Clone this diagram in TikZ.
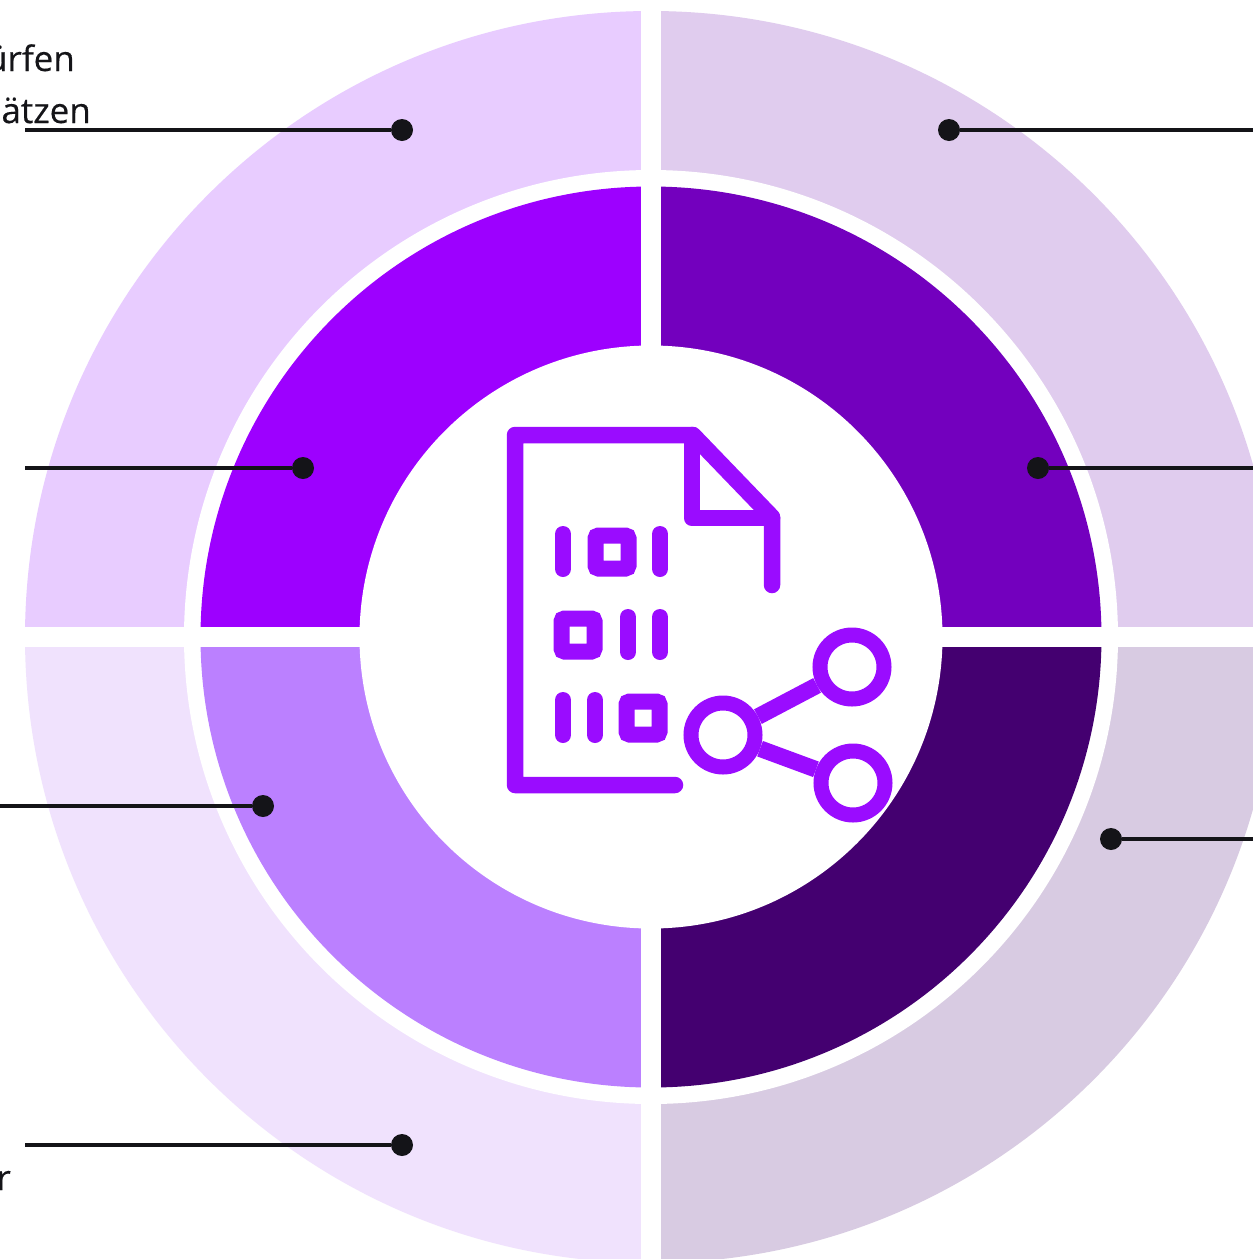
\documentclass[tikz,border=0pt]{standalone}
\usepackage{fontspec}
\setmainfont[FakeBold=0.35]{Open Sans}
\definecolor{ol1}{HTML}{E8CCFF}
\definecolor{ol2}{HTML}{E0CCEE}
\definecolor{ol3}{HTML}{F0E2FD}
\definecolor{ol4}{HTML}{D8CBE2}
\definecolor{in1}{HTML}{9D00FF}
\definecolor{in2}{HTML}{7300BE}
\definecolor{in3}{HTML}{BB80FF}
\definecolor{in4}{HTML}{440070}
\definecolor{icon}{HTML}{9A0CFF}
\definecolor{ink}{HTML}{141418}
\tikzset{
  dotmark/.style={circle,fill=ink,inner sep=0pt,minimum size=22pt},
  leader/.style={draw=ink,line width=3.4pt},
  lbl/.style={inner sep=0pt,text=ink,font=\fontsize{35}{35}\selectfont,anchor=base east},
  iconline/.style={draw=icon,line width=16.5pt,line cap=round,line join=round},
  iconbar/.style={draw=icon,line width=16pt,line cap=round},
  iconsq/.style={draw=icon,line width=16pt,rounded corners=3pt,inner sep=0pt,minimum size=33pt,fill=white},
  iconring/.style={circle,draw=icon,line width=15pt,inner sep=0pt,minimum size=64pt},
}
\begin{document}
\begin{tikzpicture}[x=1pt,y=-1pt]
\useasboundingbox (0,0) rectangle (1253,1259);
\clip (0,0) rectangle (1253,1259);
\fill[white] (0,0) rectangle (1253,1259);
\coordinate (ctr) at (651,637);
% outer ring quadrants
\begin{scope}\clip (0,0) rectangle (651,637); \fill[ol1] (ctr) circle[radius=626pt]; \end{scope}
\begin{scope}\clip (651,0) rectangle (1253,637); \fill[ol2] (ctr) circle[radius=626pt]; \end{scope}
\begin{scope}\clip (0,637) rectangle (651,1259); \fill[ol3] (ctr) circle[radius=626pt]; \end{scope}
\begin{scope}\clip (651,637) rectangle (1253,1259); \fill[ol4] (ctr) circle[radius=626pt]; \end{scope}
\fill[white] (ctr) circle[radius=467pt];
% inner ring quadrants
\begin{scope}\clip (0,0) rectangle (651,637); \fill[in1] (ctr) circle[radius=450.5pt]; \end{scope}
\begin{scope}\clip (651,0) rectangle (1253,637); \fill[in2] (ctr) circle[radius=450.5pt]; \end{scope}
\begin{scope}\clip (0,637) rectangle (651,1259); \fill[in3] (ctr) circle[radius=450.5pt]; \end{scope}
\begin{scope}\clip (651,637) rectangle (1253,1259); \fill[in4] (ctr) circle[radius=450.5pt]; \end{scope}
\fill[white] (ctr) circle[radius=291.5pt];
% separating bars
\fill[white] (641,0) rectangle (661,1259);
\fill[white] (0,627) rectangle (1253,646.5);
% cut-off labels
\node[lbl] (t1) at (75,71) {ürfen};
\node[lbl] (t2) at (91,123) {ätzen};
\node[lbl] (t3) at (11,1190) {r};
% dots and leaders
\node[dotmark] (d1) at (402,130) {};
\node[dotmark] (d2) at (949,130) {};
\node[dotmark] (d3) at (303,468) {};
\node[dotmark] (d4) at (1038,468) {};
\node[dotmark] (d5) at (263,806) {};
\node[dotmark] (d6) at (1111,839) {};
\node[dotmark] (d7) at (402,1145) {};
\coordinate (e1) at (25,130);
\coordinate (e2) at (1253,130);
\coordinate (e3) at (25,468);
\coordinate (e4) at (1253,468);
\coordinate (e5) at (0,806);
\coordinate (e6) at (1253,839);
\coordinate (e7) at (25,1145);
\foreach \i in {1,...,7} {\draw[leader] (d\i) -- (e\i);}
% document icon
\draw[iconline] (675,785) -- (515,785) -- (515,435) -- (693,435) -- (772,517) -- (772,585);
\draw[iconline] (692,435) -- (692,518) -- (772,518);
\draw[iconbar] (563,534) -- (563,569);
\node[iconsq] (s1) at (612,552) {};
\draw[iconbar] (660,534) -- (660,569);
\node[iconsq] (s2) at (578,635) {};
\draw[iconbar] (628,617) -- (628,652);
\draw[iconbar] (660,617) -- (660,652);
\draw[iconbar] (563,700) -- (563,735);
\draw[iconbar] (595,700) -- (595,735);
\node[iconsq] (s3) at (643,718) {};
% share symbol
\node[iconring] (r1) at (723,735) {};
\node[iconring] (r2) at (852,667) {};
\node[iconring] (r3) at (853,783) {};
\draw[iconline,line cap=butt] (r1) -- (r2);
\draw[iconline,line cap=butt] (r1) -- (r3);
\end{tikzpicture}
\end{document}
